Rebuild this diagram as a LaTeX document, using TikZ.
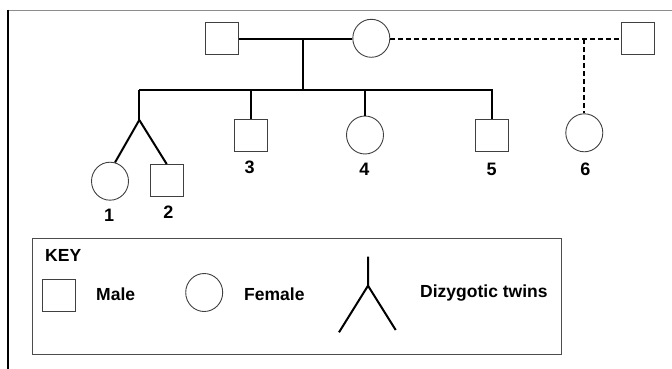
\documentclass[tikz,border=0pt]{standalone}
\usepackage{fontspec}
\setmainfont{Liberation Sans}
\usetikzlibrary{shapes.geometric}
\begin{document}
\begin{tikzpicture}[x=1pt,y=-1pt,
  male/.style={rectangle,draw=black!75,line width=0.9pt,minimum width=33pt,minimum height=32pt,inner sep=0pt},
  female/.style={ellipse,draw=black!75,line width=0.9pt,minimum width=37pt,minimum height=38pt,inner sep=0pt},
  kin/.style={line width=2pt,black},
  kindash/.style={line width=2pt,black,dash pattern=on 5pt off 3pt},
  lbl/.style={font=\fontsize{18}{20}\selectfont\bfseries,inner sep=0pt,anchor=base},
  keytxt/.style={font=\fontsize{17.5}{20}\selectfont\bfseries,inner sep=0pt,anchor=base west}]
\useasboundingbox (0,0) rectangle (672,369);
% frame
\draw[black!45,line width=1pt] (8,10.5) -- (672,10.5);
\draw[black,line width=2pt] (8.3,10) -- (8.3,369);
% individuals
\node[male] (f) at (221.7,38.5) {};
\node[female] (m) at (371.3,38.3) {};
\node[male] (s) at (637.7,38.5) {};
\node[female] (c1) at (110,181.2) {};
\node[male] (c2) at (166.7,180.5) {};
\node[male] (c3) at (250.5,135.5) {};
\node[female] (c4) at (365,135) {};
\node[male] (c5) at (492.3,135.5) {};
\node[female] (c6) at (584.3,132.8) {};
% labels
\node[lbl] (l1) at (109.2,221.7) {1};
\node[lbl] (l2) at (168.3,218.3) {2};
\node[lbl] (l3) at (249.7,173.3) {3};
\node[lbl] (l4) at (364.3,175) {4};
\node[lbl] (l5) at (491.7,175) {5};
\node[lbl] (l6) at (585.3,175) {6};
% connectors
\coordinate (mate) at (302.7,39.3);
\coordinate (sib) at (302.7,90);
\coordinate (sibL) at (139.3,90);
\coordinate (sibR) at (492.3,90);
\coordinate (twin) at (139.3,120);
\coordinate (mate2) at (584.3,39.3);
\draw[kin] (f.east |- mate) -- (mate) -- (m.west |- mate);
\draw[kin] (mate) -- (sib);
\draw[kin] (sibL) -- (sibR) -- (c5.north);
\draw[kin] (sibL) -- (twin);
\draw[kin] (twin) -- (c1.75);
\draw[kin] (twin) -- (c2.north);
\draw[kin] (c3.north |- sib) -- (c3.north);
\draw[kin] (c4.north |- sib) -- (c4.north);
\draw[kindash] (m.east |- mate2) -- (mate2) -- (s.west |- mate2);
\draw[kindash] (mate2) -- (c6.north);
% key
\draw[black!70,line width=1pt] (32.7,238.3) rectangle (561,354);
\node[keytxt] (key) at (45,261.7) {KEY};
\node[male] (kmale) at (58.7,295.5) {};
\node[keytxt] (kmaletxt) at (96,300.7) {Male};
\node[female] (kfem) at (204.2,292.5) {};
\node[keytxt] (kfemtxt) at (244,300) {Female};
\coordinate (kt) at (368,256.7);
\coordinate (kj) at (368,285.7);
\coordinate (kl) at (339,332.3);
\coordinate (kr) at (395.7,330);
\draw[kin] (kt) -- (kj) -- (kl);
\draw[kin] (kj) -- (kr);
\node[keytxt] (ktwtxt) at (420,297.7) {Dizygotic twins};
\end{tikzpicture}
\end{document}
